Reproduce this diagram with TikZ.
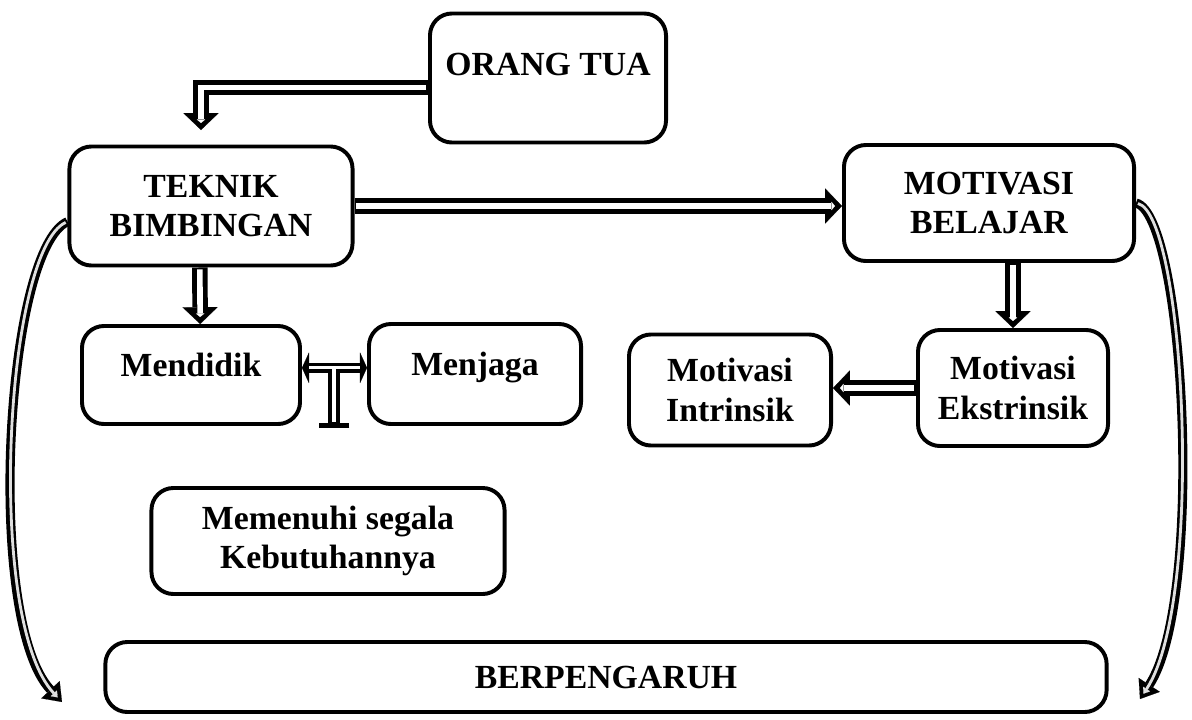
\documentclass[tikz,border=0pt]{standalone}
\usepackage{fontspec}
\setmainfont{Liberation Serif}
\usetikzlibrary{arrows.meta}
\begin{document}
\begin{tikzpicture}[x=0.025cm,y=-0.025cm,
    box/.style={draw,line width=2.8pt,rounded corners=0.55cm,align=center,
      font=\fontsize{24}{28}\selectfont\bfseries},
    blk/.style={line width=11pt,-{Triangle[length=12pt,width=25pt,line width=0.1pt]},
      postaction={draw=white,line width=4pt,shorten <=1.4pt,shorten >=5pt,
        -{Triangle[length=2.5pt,width=6pt,line width=0.1pt]}}},
    curv/.style={line width=6.5pt,-{Triangle[length=12pt,width=18pt,line width=0.1pt]},
      postaction={draw=gray!25,line width=2pt,shorten <=1.4pt,shorten >=4.5pt,
        -{Triangle[length=4pt,width=6pt,line width=0.1pt]}}}]
    \useasboundingbox (0,0) rectangle (1192,719);
    % boxes
    \node[box,minimum width=5.9cm,minimum height=3.225cm,text depth=20pt] (orang) at (548,78) {ORANG TUA};
    \node[box,minimum width=7.075cm,minimum height=2.975cm] (teknik) at (211,206) {TEKNIK\\BIMBINGAN};
    \node[box,minimum width=7.25cm,minimum height=2.9cm] (motivasi) at (989,203) {MOTIVASI\\BELAJAR};
    \node[box,minimum width=5.45cm,minimum height=2.45cm,text depth=14pt] (mendidik) at (191,375) {Mendidik};
    \node[box,minimum width=5.3cm,minimum height=2.5cm,text depth=14pt] (menjaga) at (475,374) {Menjaga};
    \node[box,minimum width=5.05cm,minimum height=2.775cm] (intrinsik) at (730,390) {Motivasi\\Intrinsik};
    \node[box,minimum width=4.75cm,minimum height=2.9cm] (ekstrinsik) at (1013,388) {Motivasi\\Ekstrinsik};
    \node[box,minimum width=8.825cm,minimum height=2.65cm] (memenuhi) at (328,541) {Memenuhi segala\\Kebutuhannya};
    \node[box,minimum width=25.025cm,minimum height=1.75cm] (pengaruh) at (606,677) {BERPENGARUH};
    % arrows
    \coordinate (ot) at (201,130);
    \draw[blk] ([yshift=-0.24cm]orang.west) -| (ot);
    \draw[blk] (teknik.east) -- (motivasi.west |- teknik.east);
    \draw[blk] ([xshift=-0.28cm]teknik.south) -- ([xshift=0.23cm]mendidik.north);
    \draw[blk] (ekstrinsik.north |- motivasi.south) -- (ekstrinsik.north);
    \draw[blk] (ekstrinsik.west) -- (intrinsik.east |- ekstrinsik.west);
    % T connector
    \coordinate (tj) at (334,368);
    \coordinate (tb) at (334,428);
    \draw[line width=9pt,-{Bar[width=22pt,line width=3.5pt]},
      postaction={draw=white,line width=3.5pt,shorten >=4pt,-}] (tj) -- (tb);
    \draw[line width=7pt,
      {Triangle[round,length=5pt,width=22pt,line width=0.1pt]}-{Triangle[round,length=5pt,width=22pt,line width=0.1pt]},
      postaction={draw=white,line width=2pt,shorten <=5pt,shorten >=5pt,-}]
      ([yshift=0.18cm]mendidik.east) -- ([yshift=0.18cm]mendidik.east -| menjaga.west);
    \draw[white,line width=3.5pt] (tj) -- ++(0,6);
    % side arrows
    \coordinate (lend) at (62,702);
    \coordinate (rend) at (1140,699);
    \draw[curv] ([yshift=-0.39cm]teknik.west) .. controls (5,250) and (-15,620) .. (lend);
    \draw[curv] (motivasi.east) .. controls (1185,215) and (1205,600) .. (rend);
\end{tikzpicture}
\end{document}
